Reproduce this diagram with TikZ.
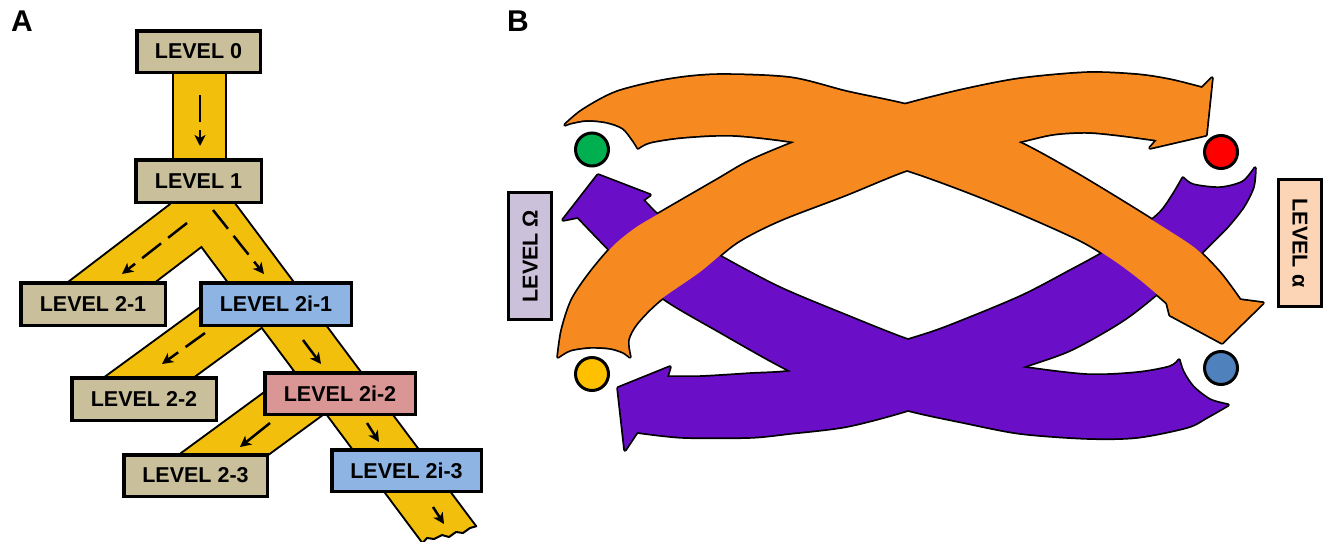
\documentclass[tikz,border=0pt]{standalone}
\usepackage{fontspec}
\setmainfont{Liberation Sans}
\usetikzlibrary{arrows.meta}
\definecolor{orangeC}{HTML}{F6891F}
\definecolor{purpleC}{HTML}{6A0FC7}
\definecolor{tanC}{HTML}{C9BF9B}
\definecolor{blueC}{HTML}{8DB4E2}
\definecolor{pinkC}{HTML}{DA9694}
\definecolor{yellowC}{HTML}{F2C00C}
\definecolor{lavC}{HTML}{CCC1DA}
\definecolor{peachC}{HTML}{FBD5B5}
\definecolor{greenC}{HTML}{00B050}
\definecolor{redC}{HTML}{FF0000}
\definecolor{yelC}{HTML}{FFC000}
\definecolor{dotblueC}{HTML}{4F81BD}
\tikzset{
  lvl/.style={draw=black, line width=3.5pt, rectangle, inner sep=0pt,
    font=\fontsize{21.5}{24}\selectfont\bfseries, text=black},
  stripo/.style={line width=55pt, draw=black},
  stripi/.style={line width=51pt, draw=yellowC},
  flowarrow/.style={line width=2.5pt, -{Stealth[length=11pt,width=11pt,inset=3pt]}, dash pattern=on 24pt off 9pt},
  dot/.style={circle, draw=black, line width=3pt, minimum size=33pt, inner sep=0pt},
  sidebox/.style={draw=black, line width=3pt, rectangle, inner sep=0pt,
    minimum width=127pt, minimum height=43pt, font=\fontsize{21.5}{24}\selectfont\bfseries},
  panel/.style={font=\fontsize{30}{30}\selectfont\bfseries}
}
\begin{document}
\begin{tikzpicture}[x=1pt,y=-1pt]
\useasboundingbox (0,0) rectangle (1324,541);
\fill[white] (0,0) rectangle (1324,541);

% ---------------- Panel A ----------------
\node[panel] (labA) at (22,21) {A};

\coordinate (t0) at (199.5,60);  \coordinate (t1) at (199.5,170);
\coordinate (a0) at (214,204);   \coordinate (a1) at (83,304);
\coordinate (s0) at (184.5,180); \coordinate (s1) at (469,561);
\coordinate (b0) at (248,305);   \coordinate (b1) at (118,400);
\coordinate (c0) at (312,390);   \coordinate (c1) at (196,475);

\foreach \st in {stripo, stripi}{
  \draw[\st] (t0) -- (t1);
  \draw[\st] (a0) -- (a1);
  \draw[\st] (s0) -- (s1);
  \draw[\st] (b0) -- (b1);
  \draw[\st] (c0) -- (c1);
}
% torn end of the long strip
\fill[white] (420,546) -- (427,538) -- (434,539) -- (442,535) -- (449,537) -- (456,532) -- (463,533) -- (470,528) -- (477,526) -- (495,520) -- (495,560) -- (410,560) -- cycle;
\draw[line width=2pt, line join=round] (420,546) -- (427,538) -- (434,539) -- (442,535) -- (449,537) -- (456,532) -- (463,533) -- (470,528) -- (477,526);

% dashed flow arrows
\coordinate (f0a) at (200,95);  \coordinate (f0b) at (200,146);
\coordinate (f1a) at (187,223); \coordinate (f1b) at (122,274);
\coordinate (f2a) at (213,210); \coordinate (f2b) at (264,274);
\coordinate (f3a) at (205,333); \coordinate (f3b) at (162,364);
\coordinate (f4a) at (303,340); \coordinate (f4b) at (321,364);
\coordinate (f5a) at (270,423); \coordinate (f5b) at (240,447);
\coordinate (f6a) at (367,423); \coordinate (f6b) at (379,442);
\coordinate (f7a) at (433,507); \coordinate (f7b) at (444,524);
\draw[flowarrow, dash pattern=on 27pt off 8pt] (f0a) -- (f0b);
\draw[flowarrow] (f1a) -- (f1b);
\draw[flowarrow] (f2a) -- (f2b);
\draw[flowarrow] (f3a) -- (f3b);
\draw[flowarrow, solid] (f4a) -- (f4b);
\draw[flowarrow, solid] (f5a) -- (f5b);
\draw[flowarrow, solid] (f6a) -- (f6b);
\draw[flowarrow, solid] (f7a) -- (f7b);

\node[lvl, fill=tanC,  minimum width=123.5pt, minimum height=41.5pt] (L0)   at (198.5,51.5) {LEVEL 0};
\node[lvl, fill=tanC,  minimum width=125.5pt, minimum height=42.5pt] (L1)   at (198.5,181)  {LEVEL 1};
\node[lvl, fill=tanC,  minimum width=144.5pt, minimum height=42.5pt] (L21)  at (93,304)     {LEVEL 2-1};
\node[lvl, fill=blueC, minimum width=150.5pt, minimum height=42.5pt] (L2i1) at (276,304)    {LEVEL 2i-1};
\node[lvl, fill=tanC,  minimum width=144.5pt, minimum height=42.5pt] (L22)  at (144,399)    {LEVEL 2-2};
\node[lvl, fill=pinkC, minimum width=150.5pt, minimum height=41.5pt] (L2i2) at (340,393.5)  {LEVEL 2i-2};
\node[lvl, fill=tanC,  minimum width=143.5pt, minimum height=41.5pt] (L23)  at (195.5,475.5){LEVEL 2-3};
\node[lvl, fill=blueC, minimum width=149.5pt, minimum height=41.5pt] (L2i3) at (406.5,470.5){LEVEL 2i-3};

% ---------------- Panel B ----------------
\node[panel] (labB) at (518,21) {B};

\def\OoneP{plot[smooth] coordinates {(565,125) (583,110) (617,92) (667,80) (717,75) (790,78) (847,92) (907,105) (963,122) (1018,142) (1070,170) (1120,200) (1160,225) (1195,248) (1220,273) (1240,300)} -- (1263,303) -- (1222,343) -- (1170,315) -- plot[smooth] coordinates {(1167,303) (1140,280) (1113,260) (1080,240) (1020,213) (963,190) (907,170) (850,155) (795,142) (733,135) (683,137) (650,142) (638,148)} -- plot[smooth] coordinates {(638,148) (633,140) (623,128) (607,122) (587,120) (570,123) (565,125)} -- cycle}
\def\OtwoP{plot[smooth] coordinates {(558,357) (562,330) (572,300) (590,273) (613,246) (635,228) (660,213) (717,180) (750,161) (795,142) (850,121) (907,104) (963,90) (1020,79) (1087,73) (1137,75) (1170,80) (1202,88)} -- (1212,78) -- (1206,135) -- (1150,148) -- plot[smooth] coordinates {(1157,140) (1120,135) (1087,132) (1053,134) (1018,142) (963,155) (907,170) (845,195) (780,220) (737,242) (700,272) (660,300) (637,323) (628,340) (630,357)} -- plot[smooth] coordinates {(630,357) (623,352) (610,348) (590,347) (570,350) (558,357)} -- cycle}
\def\PoneP{plot[smooth] coordinates {(643,200) (660,217) (690,238) (723,258) (780,288) (847,316) (908,340) (963,356) (1020,367) (1087,375) (1137,373) (1170,367) (1179,360)} -- plot[smooth] coordinates {(1179,360) (1183,372) (1193,387) (1210,400) (1228,405)} -- plot[smooth] coordinates {(1228,405) (1207,417) (1187,427) (1137,437) (1087,438) (1020,433) (963,422) (908,410) (850,392) (793,372) (717,330) (663,298) (623,263) (600,240) (578,217)} -- (563,220) -- (598,175) -- (650,195) -- cycle}
\def\PtwoP{plot[smooth] coordinates {(1255,168) (1253,187) (1243,207) (1227,227) (1213,241) (1190,264) (1153,297) (1120,322) (1070,350) (1020,368) (963,390) (908,410) (847,426) (790,433) (750,437) (683,437) (637,432)} -- (625,450) -- (618,388) -- (670,367) -- plot[smooth] coordinates {(667,377) (700,377) (750,374) (793,371) (850,357) (908,340) (947,327) (1020,297) (1070,271) (1103,253) (1135,233) (1160,213) (1173,195) (1183,178)} -- plot[smooth] coordinates {(1183,178) (1193,185) (1220,188) (1243,182) (1255,168)} -- cycle}

\draw[line width=3.5pt, line join=round] \PoneP;
\draw[line width=3.5pt, line join=round] \PtwoP;
\draw[line width=3.5pt, line join=round] \OoneP;
\draw[line width=3.5pt, line join=round] \OtwoP;
\fill[purpleC] \PoneP;
\fill[purpleC] \PtwoP;
\fill[orangeC] \OoneP;
\fill[orangeC] \OtwoP;

\node[dot, fill=greenC]   (cg) at (592,149.5) {};
\node[dot, fill=redC]     (cr) at (1221,152)  {};
\node[dot, fill=yelC]     (cy) at (592,374)   {};
\node[dot, fill=dotblueC] (cb) at (1221,368)  {};

\node[sidebox, fill=lavC, rotate=90]    (LOm) at (530,256)  {LEVEL Ω};
\node[sidebox, fill=peachC, rotate=-90] (LAl) at (1300,243) {LEVEL α};
\end{tikzpicture}
\end{document}
